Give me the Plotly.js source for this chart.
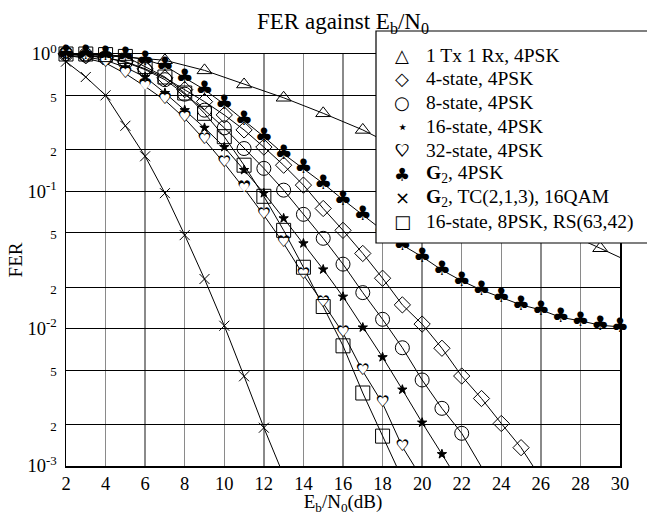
<!DOCTYPE html>
<html><head><meta charset="utf-8">
<script src="https://cdn.plot.ly/plotly-3.0.1.min.js"></script>
<style>html,body{margin:0;padding:0;background:#fff}#chart{width:647px;height:515px}</style>
</head><body><div id="chart"></div>
<script>
// ---- data (Eb/N0 in dB, FER) ----
const triX = [3,5,7,9,11,13,15,17,19,21,23,25,27,29];
const triY = [0.99,0.95,0.90,0.76,0.60,0.48,0.37,0.28,0.20,0.14,0.10,0.072,0.052,0.0385];
const triLineX = [2,3,5,7,9,11,13,15,17,19,21,23,25,27,29,30];
const triLineY = [1.0,0.99,0.95,0.90,0.76,0.60,0.48,0.37,0.28,0.20,0.14,0.10,0.072,0.052,0.0385,0.033];

const diaX = [2,3,4,5,6,7,8,9,10,11,12,13,14,15,16,17,18,19,20,21,22,23,24,25];
const diaY = [1.0,0.97,0.94,0.88,0.78,0.67,0.55,0.45,0.36,0.28,0.21,0.155,0.111,0.075,0.052,0.0353,0.0233,0.0149,0.0108,0.0072,0.00452,0.0031,0.00204,0.00136];
const diaTailX = [25.6]; const diaTailY = [0.001];

const cirX = [2,3,4,5,6,7,8,9,10,11,12,13,14,15,16,17,18,19,20,21,22];
const cirY = [1.0,0.98,0.94,0.87,0.77,0.65,0.51,0.39,0.29,0.205,0.147,0.102,0.068,0.0455,0.0295,0.0183,0.0117,0.00726,0.00423,0.00263,0.00173];
const cirTailX = [22.97]; const cirTailY = [0.001];

const starX = [2,3,4,5,6,7,8,9,10,11,12,13,14,15,16,17,18,19,20,21];
const starY = [0.98,0.95,0.9,0.8,0.68,0.52,0.39,0.29,0.21,0.143,0.097,0.0636,0.0418,0.027,0.0171,0.0102,0.0062,0.0036,0.00207,0.00122];
const starTailX = [21.37]; const starTailY = [0.001];

const heartX = [2,3,4,5,6,7,8,9,10,11,12,13,14,15,16,17,18,19];
const heartY = [0.98,0.93,0.86,0.72,0.58,0.46,0.34,0.237,0.16,0.105,0.067,0.0418,0.0246,0.0153,0.0093,0.0049,0.00286,0.00138];
const heartTailX = [19.6]; const heartTailY = [0.001];

const clubX = [2,3,4,5,6,7,8,9,10,11,12,13,14,15,16,17,18,19,20,21,22,23,24,25,26,27,28,29,30];
const clubY = [1.0,1.0,0.98,0.96,0.91,0.82,0.67,0.55,0.43,0.33,0.25,0.187,0.147,0.114,0.087,0.067,0.052,0.0406,0.0334,0.0267,0.0223,0.0191,0.0169,0.0149,0.0137,0.0121,0.0114,0.0106,0.0103];

const crossX = [2,3,4,5,6,7,8,9,10,11,12];
const crossY = [0.88,0.68,0.50,0.30,0.18,0.097,0.048,0.023,0.0105,0.0045,0.0019];
const crossTailX = [12.8]; const crossTailY = [0.001];

const sqX = [2,3,4,5,6,7,8,9,10,11,12,13,14,15,16,17,18];
const sqY = [1.0,1.0,0.99,0.96,0.81,0.68,0.52,0.37,0.25,0.155,0.092,0.052,0.028,0.0145,0.0075,0.0034,0.00165];
const sqTailX = [18.7]; const sqTailY = [0.001];

const seriesNames = ['1 Tx 1 Rx, 4PSK','4-state, 4PSK','8-state, 4PSK','16-state, 4PSK','32-state, 4PSK',
  '<b>G</b><sub>2</sub>, 4PSK','<b>G</b><sub>2</sub>, TC(2,1,3), 16QAM','16-state, 8PSK, RS(63,42)'];
const legendGlyphs = ['\u25B3','\u25C7','\u25CB','\u22C6','\u2665','\u2663','\u00D7','\u25A1'];

const xTickVals = [2,4,6,8,10,12,14,16,18,20,22,24,26,28,30];
const yTickVals = [0.001,0.002,0.005,0.01,0.02,0.05,0.1,0.2,0.5,1];
const yTickText = ['10<sup>-3</sup>','2','5','10<sup>-2</sup>','2','5','10<sup>-1</sup>','2','5','10<sup>0</sup>'];

// ---- build ----
const SERIF = 'Liberation Serif, Times New Roman, serif';
const SYM = 'DejaVu Sans, sans-serif';
const lineStyle = {color:'#000', width:1};
function lineTrace(x, y){ return {x:x, y:y, type:'scatter', mode:'lines', line:lineStyle, hoverinfo:'skip', showlegend:false}; }
function markTrace(x, y, symbol, size){
  return {x:x, y:y, type:'scatter', mode:'markers', cliponaxis:false, showlegend:false,
    marker:{symbol:symbol, size:size, color:'#000', line:{color:'#000', width:1}}};
}
function glyphTrace(x, y, glyph, size, color){
  return {x:x, y:y, type:'scatter', mode:'text', cliponaxis:false, showlegend:false,
    text:x.map(()=>glyph), textposition:'middle center',
    textfont:{family:SYM, size:size, color:color}};
}
const traces = [
  lineTrace(triLineX, triLineY),
  lineTrace(diaX.concat(diaTailX), diaY.concat(diaTailY)),
  lineTrace(cirX.concat(cirTailX), cirY.concat(cirTailY)),
  lineTrace(starX.concat(starTailX), starY.concat(starTailY)),
  lineTrace(heartX.concat(heartTailX), heartY.concat(heartTailY)),
  lineTrace(clubX, clubY),
  lineTrace(crossX.concat(crossTailX), crossY.concat(crossTailY)),
  lineTrace(sqX.concat(sqTailX), sqY.concat(sqTailY)),
  markTrace(triX, triY, 'triangle-up-open', 13),
  markTrace(diaX, diaY, 'diamond-open', 12.5),
  markTrace(cirX, cirY, 'circle-open', 14),
  markTrace(starX, starY, 'star', 7),
  // open heart: black heart with a smaller white heart inside
  glyphTrace(heartX, heartY, '\u2665', 16, '#000'),
  glyphTrace(heartX, heartY, '\u2665', 12.5, '#fff'),
  glyphTrace(clubX, clubY, '\u2663', 20, '#000'),
  markTrace(crossX, crossY, 'x-thin-open', 10),
  markTrace(sqX, sqY, 'square-open', 14)
];

const plotL = 66, plotR = 620, plotT = 54, plotB = 466;
const pw = plotR - plotL, ph = plotB - plotT;
const px2x = p => (p - plotL) / pw;
const py2y = p => (plotB - p) / ph;

const annotations = [];
seriesNames.forEach((name, i) => {
  const yy = py2y(55 + i * 23.8);
  annotations.push({xref:'paper', yref:'paper', x:px2x(402), y:yy, xanchor:'center', yanchor:'middle',
    text:legendGlyphs[i], showarrow:false, font:{family:SYM, size:18, color:'#000'}});
  if (i === 4) {
    annotations.push({xref:'paper', yref:'paper', x:px2x(402), y:yy, xanchor:'center', yanchor:'middle',
      text:legendGlyphs[i], showarrow:false, font:{family:SYM, size:14, color:'#fff'}});
  }
  annotations.push({xref:'paper', yref:'paper', x:px2x(424), y:yy, xanchor:'left', yanchor:'middle',
    text:name, showarrow:false, font:{family:SERIF, size:19.5, color:'#000'}});
});

const minor = t => '<span style="font-size:13px">' + t + '</span>';
const yTickLabels = yTickText.map(t => t.indexOf('<sup>') >= 0 ? t : minor(t));

const layout = {
  width:647, height:515,
  margin:{l:plotL, r:647-plotR, t:plotT, b:515-plotB},
  paper_bgcolor:'#fff', plot_bgcolor:'#fff',
  showlegend:false,
  font:{family:SERIF, color:'#000'},
  title:{text:'FER against E<sub>b</sub>/N<sub>0</sub>', font:{family:SERIF, size:23, color:'#000'},
    x:0.5, xref:'paper', xanchor:'center', y:0.975, yref:'container', yanchor:'top'},
  xaxis:{type:'linear', range:[2,30], tickmode:'array', tickvals:xTickVals, showgrid:true, gridcolor:'#8a8a8a', gridwidth:1.3,
    showline:true, mirror:true, linecolor:'#000', linewidth:1.5, ticks:'', zeroline:false,
    tickfont:{family:SERIF, size:18.5, color:'#000'},
    title:{text:'E<sub>b</sub>/N<sub>0</sub>(dB)', font:{family:SERIF, size:19, color:'#000'}, standoff:2}},
  xaxis2:{overlaying:'x', anchor:'y', range:[2,30], tick0:2, dtick:4, showgrid:true, gridcolor:'#000', gridwidth:1,
    showticklabels:false, ticks:'', zeroline:false, showline:false},
  yaxis:{type:'log', range:[-3,0], tickmode:'array', tickvals:yTickVals, ticktext:yTickLabels, showgrid:true, gridcolor:'#000', gridwidth:1,
    showline:true, mirror:true, linecolor:'#000', linewidth:1.5, ticks:'', zeroline:false,
    tickfont:{family:SERIF, size:18.5, color:'#000'}, ticklabelstandoff:4,
    title:{text:'FER', font:{family:SERIF, size:19, color:'#000'}, standoff:0}},
  yaxis2:{overlaying:'y', anchor:'x', type:'log', range:[-3,0], dtick:'D1', showgrid:true, gridcolor:'#444', gridwidth:1,
    showticklabels:false, ticks:'', zeroline:false, showline:false},
  shapes:[{type:'rect', xref:'paper', yref:'paper', x0:px2x(376), x1:px2x(660), y0:py2y(243), y1:py2y(31),
    fillcolor:'#fff', line:{color:'#000', width:1.2}, layer:'above'}],
  annotations:annotations
};
Plotly.newPlot('chart', traces, layout, {displayModeBar:false, staticPlot:true});
</script>
</body></html>
